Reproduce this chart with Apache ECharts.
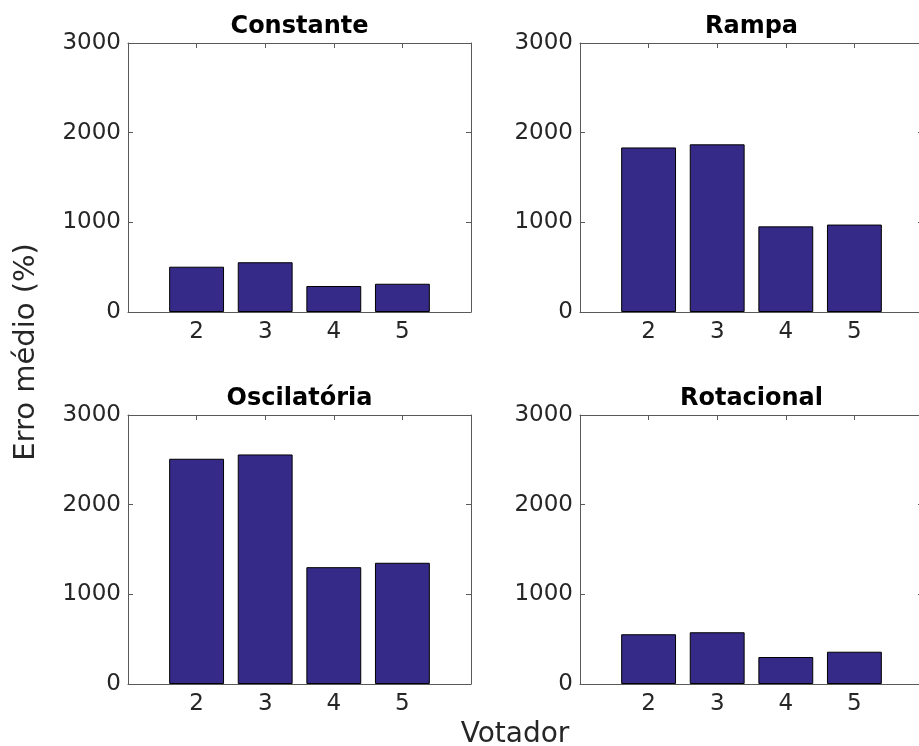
<!DOCTYPE html>
<html>
<head>
<meta charset="utf-8">
<script src="https://cdn.jsdelivr.net/npm/echarts@6/dist/echarts.min.js"></script>
<style>
html,body{margin:0;padding:0;background:#fff;}
#chart{width:919px;height:746px;}
</style>
</head>
<body>
<div id="chart"></div>
<script>
// Data
const votadores = [2, 3, 4, 5];
const titles = ['Constante', 'Rampa', 'Oscilatória', 'Rotacional'];
const constante = [505, 555, 290, 315];
const rampa = [1835, 1870, 955, 975];
const oscilatoria = [2512, 2560, 1303, 1352];
const rotacional = [555, 577, 301, 360];
const yTicks = [0, 1000, 2000, 3000];
const yLabel = 'Erro médio (%)';
const xLabel = 'Votador';

const seriesValues = [constante, rampa, oscilatoria, rotacional];

const FONT = 'DejaVu Sans';
const AXIS_COLOR = '#595959';
const TEXT_COLOR = '#262626';
const BAR_COLOR = '#352a87';

const gridPos = [
  {left: 128, top: 43},
  {left: 580, top: 43},
  {left: 128, top: 415},
  {left: 580, top: 415}
];
const GW = 343, GH = 269;

const grids = [], xAxes = [], yAxes = [], series = [], titleArr = [];

gridPos.forEach((p, i) => {
  grids.push({left: p.left, top: p.top, width: GW, height: GH, containLabel: false, outerBoundsMode: 'none'});
  const lineStyle = {color: AXIS_COLOR, width: 1};
  // bottom x axis
  xAxes.push({
    gridIndex: i, type: 'value', position: 'bottom', min: 1, max: 6, interval: 1,
    axisLine: {show: true, lineStyle},
    axisTick: {show: true, inside: true, length: 5, lineStyle},
    splitLine: {show: false},
    axisLabel: {
      show: true, color: TEXT_COLOR, fontFamily: FONT, fontSize: 23, margin: 9,
      formatter: v => (votadores.indexOf(v) >= 0 ? String(v) : '')
    }
  });
  // top x axis (box)
  xAxes.push({
    gridIndex: i, type: 'value', position: 'top', min: 1, max: 6, interval: 1,
    axisLine: {show: true, onZero: false, lineStyle},
    axisTick: {show: true, inside: true, length: 5, lineStyle},
    splitLine: {show: false},
    axisLabel: {show: false}
  });
  // left y axis
  yAxes.push({
    gridIndex: i, type: 'value', position: 'left', min: yTicks[0], max: yTicks[yTicks.length - 1], interval: 1000,
    axisLine: {show: true, lineStyle},
    axisTick: {show: true, inside: true, length: 5, lineStyle},
    splitLine: {show: false},
    axisLabel: {show: true, color: TEXT_COLOR, fontFamily: FONT, fontSize: 23, margin: 7,
      formatter: v => String(v)}
  });
  // right y axis (box)
  yAxes.push({
    gridIndex: i, type: 'value', position: 'right', min: yTicks[0], max: yTicks[yTicks.length - 1], interval: 1000,
    axisLine: {show: true, onZero: false, lineStyle},
    axisTick: {show: true, inside: true, length: 5, lineStyle},
    splitLine: {show: false},
    axisLabel: {show: false}
  });
  series.push({
    type: 'bar',
    xAxisIndex: i * 2,
    yAxisIndex: i * 2,
    barWidth: '80%',
    data: votadores.map((v, k) => [v, seriesValues[i][k]]),
    itemStyle: {color: BAR_COLOR, borderColor: '#000', borderWidth: 1},
    emphasis: {disabled: true},
    silent: true
  });
  titleArr.push({
    text: titles[i],
    left: p.left + GW / 2 - 5,
    top: p.top - 33,
    textAlign: 'center',
    textStyle: {fontFamily: FONT, fontWeight: 'bold', fontSize: 24, color: '#000'}
  });
});

// Shared x axis label
titleArr.push({
  text: xLabel,
  left: 510,
  top: 716,
  textAlign: 'center',
  textStyle: {fontFamily: FONT, fontWeight: 'normal', fontSize: 28, color: TEXT_COLOR}
});

const chart = echarts.init(document.getElementById('chart'), null, {renderer: 'canvas'});
chart.setOption({
  animation: false,
  backgroundColor: '#fff',
  title: titleArr,
  grid: grids,
  xAxis: xAxes,
  yAxis: yAxes,
  series: series,
  graphic: [{
    type: 'text',
    x: 12,
    y: 352,
    rotation: Math.PI / 2,
    style: {text: yLabel, fontFamily: FONT, fontSize: 29, fill: TEXT_COLOR,
      align: 'center', verticalAlign: 'top'}
  }]
});
</script>
</body>
</html>
